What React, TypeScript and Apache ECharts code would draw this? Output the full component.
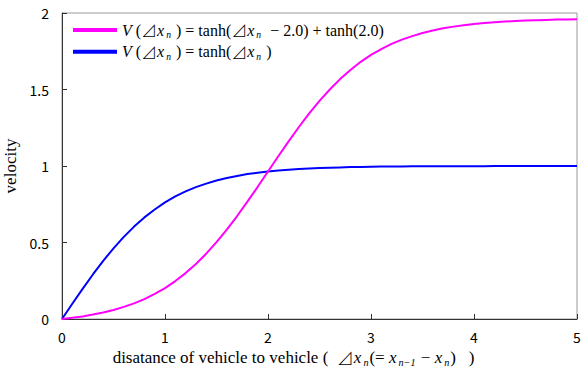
import React, { useEffect, useRef } from "react";
import * as echarts from "echarts";

const xs = [0, 0.1, 0.2, 0.3, 0.4, 0.5, 0.6, 0.7, 0.8, 0.9, 1.0, 1.1, 1.2, 1.3, 1.4, 1.5, 1.6, 1.7, 1.8, 1.9, 2.0, 2.1, 2.2, 2.3, 2.4, 2.5, 2.6, 2.7, 2.8, 2.9, 3.0, 3.1, 3.2, 3.3, 3.4, 3.5, 3.6, 3.7, 3.8, 3.9, 4.0, 4.1, 4.2, 4.3, 4.4, 4.5, 4.6, 4.7, 4.8, 4.9, 5.0];
const shiftedValues = [0, 0.008, 0.017, 0.029, 0.043, 0.059, 0.079, 0.102, 0.13, 0.164, 0.202, 0.248, 0.3, 0.36, 0.427, 0.502, 0.584, 0.673, 0.767, 0.864, 0.964, 1.064, 1.161, 1.255, 1.344, 1.426, 1.5, 1.568, 1.628, 1.681, 1.726, 1.764, 1.798, 1.826, 1.849, 1.869, 1.886, 1.9, 1.911, 1.92, 1.928, 1.934, 1.94, 1.944, 1.948, 1.951, 1.953, 1.955, 1.957, 1.958, 1.959];
const tanhValues = [0, 0.1, 0.197, 0.291, 0.38, 0.462, 0.537, 0.604, 0.664, 0.716, 0.762, 0.801, 0.834, 0.862, 0.885, 0.905, 0.922, 0.935, 0.947, 0.956, 0.964, 0.97, 0.976, 0.98, 0.984, 0.987, 0.989, 0.991, 0.993, 0.994, 0.995, 0.996, 0.997, 0.997, 0.998, 0.998, 0.998, 0.999, 0.999, 0.999, 0.999, 0.999, 1.0, 1.0, 1.0, 1.0, 1.0, 1.0, 1.0, 1.0, 1.0];
const seriesNames = ["shifted", "tanh"];
const legendTexts = [
  "{i|V}{r| (}{t|⊿}{i|x}{s|n}{r| ) = tanh(}{t|⊿}{i|x}{s|n}{r|  − 2.0) + tanh(2.0)}",
  "{i|V}{r| (}{t|⊿}{i|x}{s|n}{r| ) = tanh(}{t|⊿}{i|x}{s|n}{r| )}",
];
const xAxisName = "{r|disatance of vehicle to vehicle (  }{t|⊿}{i|x}{s|n}{r|(= }{i|x}{s|n−1}{r| − }{i|x}{s|n}{r|)   )}";
const yAxisName = "velocity";

const serif = "Liberation Serif";
const richStyle = (size: number) => ({
  r: { fontFamily: serif, fontSize: size, color: "#000" },
  t: { fontFamily: "Noto Sans CJK JP", fontSize: size, fontWeight: 300, color: "#000" },
  i: { fontFamily: serif, fontSize: size, fontStyle: "italic", color: "#000" },
  s: { fontFamily: serif, fontSize: size * 0.6, fontStyle: "italic", color: "#000", padding: [size * 0.6, 1, 0, 2] },
});

export default function App() {
  const ref = useRef<HTMLDivElement>(null);
  useEffect(() => {
    const chart = echarts.init(ref.current!, null, { renderer: "svg" });
    const tickFont = { fontFamily: "Noto Sans CJK JP", fontSize: 14, color: "#000" };
    chart.setOption({
      animation: false,
      backgroundColor: "#fff",
      grid: { left: 62, right: 8, top: 13, bottom: 57, show: true, borderColor: "#9a9a9a", borderWidth: 1, backgroundColor: "transparent", outerBoundsMode: "none", containLabel: false },
      legend: {
        orient: "vertical",
        left: 68,
        top: 17,
        itemWidth: 44,
        itemHeight: 4,
        itemGap: 4,
        icon: "rect",
        data: seriesNames,
        formatter: (name: string) => legendTexts[seriesNames.indexOf(name)],
        textStyle: { fontFamily: serif, fontSize: 16, rich: richStyle(16) },
      },
      xAxis: {
        type: "value",
        min: 0,
        max: 5,
        interval: 1,
        name: xAxisName,
        nameLocation: "middle",
        nameGap: 25,
        nameTextStyle: { fontFamily: serif, fontSize: 17, rich: richStyle(17), padding: [0, 52, 0, 0] },
        axisLine: { lineStyle: { color: "#333", width: 1 } },
        axisTick: { inside: true, length: 5, lineStyle: { color: "#333" } },
        axisLabel: { ...tickFont, margin: 11 },
        splitLine: { show: false },
      },
      yAxis: {
        type: "value",
        min: 0,
        max: 2,
        interval: 0.5,
        name: yAxisName,
        nameLocation: "middle",
        nameGap: 33,
        nameTextStyle: { fontFamily: serif, fontSize: 17, color: "#000" },
        axisLine: { show: true, lineStyle: { color: "#333", width: 1 } },
        axisTick: { show: true, inside: true, length: 5, lineStyle: { color: "#333" } },
        axisLabel: { ...tickFont, margin: 13 },
        splitLine: { show: false },
      },
      series: [
        {
          name: seriesNames[0],
          type: "line",
          data: xs.map((x, i) => [x, shiftedValues[i]]),
          showSymbol: false,
          lineStyle: { color: "#ff00ff", width: 2 },
          itemStyle: { color: "#ff00ff" },
          z: 3,
        },
        {
          name: seriesNames[1],
          type: "line",
          data: xs.map((x, i) => [x, tanhValues[i]]),
          showSymbol: false,
          lineStyle: { color: "#0000ff", width: 2 },
          itemStyle: { color: "#0000ff" },
          z: 2,
        },
      ],
    });
    return () => chart.dispose();
  }, []);
  return <div ref={ref} style={{ position: "absolute", left: 0, top: 0, width: 585, height: 376 }} />;
}
